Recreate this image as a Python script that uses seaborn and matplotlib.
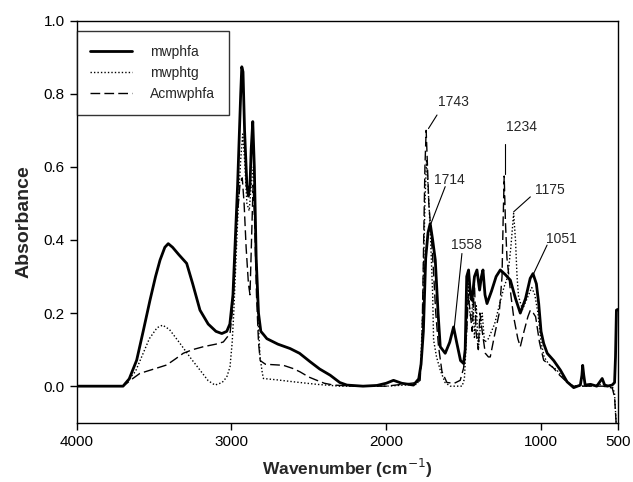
import numpy as np
import pandas as pd
import matplotlib
matplotlib.use("Agg")
import matplotlib.pyplot as plt
import seaborn as sns

# valores (número de onda em cm-1, absorbância)
wn_mwphfa = [4000, 3800, 3700, 3660, 3612, 3570, 3526, 3490, 3461, 3430, 3408, 3380, 3340, 3289,
             3250, 3203, 3150, 3100, 3062, 3030, 3010, 2990, 2975, 2960, 2948, 2940, 2933, 2925,
             2915, 2900, 2890, 2880, 2872, 2862, 2852, 2840, 2825, 2810, 2790, 2771, 2700, 2621,
             2560, 2492, 2430, 2362, 2300, 2254, 2150, 2060, 2000, 1953, 1900, 1824, 1790, 1775,
             1760, 1745, 1730, 1716, 1700, 1683, 1665, 1651, 1619, 1590, 1565, 1545, 1520, 1500,
             1490, 1480, 1468, 1456, 1446, 1430, 1414, 1397, 1385, 1375, 1362, 1349, 1320, 1290,
             1263, 1230, 1198, 1165, 1134, 1100, 1070, 1052, 1030, 1015, 1000, 983, 960, 939, 918,
             875, 832, 789, 746, 736, 731, 724, 715, 680, 640, 605, 590, 573, 541, 525, 519, 513, 505]
ab_mwphfa = [0.0, 0.0, 0.0, 0.02, 0.071, 0.15, 0.235, 0.30, 0.345, 0.38, 0.39, 0.38, 0.36, 0.336,
             0.28, 0.208, 0.17, 0.15, 0.144, 0.15, 0.17, 0.25, 0.40, 0.55, 0.70, 0.80, 0.874, 0.86,
             0.70, 0.55, 0.52, 0.55, 0.65, 0.724, 0.60, 0.35, 0.20, 0.15, 0.14, 0.13, 0.115, 0.103,
             0.09, 0.067, 0.047, 0.03, 0.01, 0.003, 0.0, 0.002, 0.008, 0.016, 0.008, 0.003, 0.02, 0.06,
             0.15, 0.35, 0.42, 0.445, 0.40, 0.345, 0.20, 0.108, 0.09, 0.12, 0.162, 0.12, 0.07, 0.062,
             0.10, 0.30, 0.318, 0.25, 0.235, 0.30, 0.318, 0.263, 0.30, 0.318, 0.25, 0.226, 0.26, 0.30,
             0.318, 0.305, 0.29, 0.24, 0.20, 0.24, 0.295, 0.308, 0.28, 0.226, 0.15, 0.117, 0.09, 0.08, 0.07,
             0.044, 0.012, -0.004, 0.003, 0.03, 0.057, 0.03, 0.003, 0.005, 0.0, 0.021, 0.004, 0.0, 0.003, 0.01, 0.08, 0.208, 0.21]

wn_mwphtg = [4000, 3700, 3677, 3620, 3580, 3530, 3480, 3444, 3400, 3332, 3260, 3203, 3150, 3106,
             3060, 3030, 3009, 2995, 2985, 2970, 2955, 2940, 2927, 2915, 2900, 2885, 2872, 2858,
             2845, 2830, 2815, 2800, 2793, 2700, 2600, 2448, 2300, 2000, 1800, 1780, 1765, 1750,
             1740, 1730, 1715, 1700, 1694, 1675, 1651, 1620, 1586, 1510, 1495, 1480, 1470, 1460,
             1450, 1440, 1430, 1418, 1405, 1395, 1380, 1365, 1340, 1300, 1270, 1240, 1215, 1195,
             1177, 1165, 1155, 1145, 1120, 1090, 1060, 1040, 1020, 1000, 980, 950, 900, 850, 800,
             750, 700, 600, 540, 525, 515]
ab_mwphtg = [0.0, 0.0, 0.012, 0.04, 0.08, 0.13, 0.16, 0.167, 0.155, 0.117, 0.075, 0.044, 0.015, 0.003,
             0.01, 0.025, 0.053, 0.12, 0.20, 0.35, 0.50, 0.62, 0.69, 0.62, 0.50, 0.48, 0.55, 0.60,
             0.45, 0.20, 0.08, 0.035, 0.021, 0.017, 0.012, 0.005, 0.0, 0.0, 0.005, 0.03, 0.20, 0.50,
             0.62, 0.55, 0.42, 0.25, 0.126, 0.08, 0.044, 0.01, 0.0, 0.0, 0.02, 0.15, 0.28, 0.20,
             0.18, 0.24, 0.13, 0.22, 0.10, 0.15, 0.20, 0.12, 0.13, 0.17, 0.22, 0.27, 0.30, 0.38,
             0.473, 0.40, 0.30, 0.245, 0.21, 0.24, 0.27, 0.25, 0.20, 0.12, 0.08, 0.06, 0.045, 0.02, 0.002,
             0.0, 0.0, 0.005, 0.0, -0.02, -0.1]

wn_acmwphfa = [4000, 3700, 3690, 3640, 3591, 3500, 3418, 3360, 3311, 3250, 3181, 3100, 3052, 3009,
               2995, 2980, 2965, 2945, 2930, 2918, 2905, 2890, 2880, 2870, 2860, 2850, 2838, 2825,
               2814, 2780, 2700, 2664, 2600, 2556, 2500, 2448, 2400, 2341, 2200, 2000, 1900, 1800,
               1781, 1770, 1760, 1750, 1742, 1735, 1725, 1710, 1694, 1680, 1662, 1640, 1608, 1560,
               1522, 1500, 1480, 1470, 1457, 1445, 1430, 1420, 1405, 1395, 1380, 1360, 1340, 1328,
               1300, 1270, 1252, 1245, 1238, 1230, 1220, 1210, 1195, 1177, 1150, 1134, 1110, 1085,
               1069, 1050, 1035, 1010, 983, 950, 920, 880, 830, 790, 700, 600, 540, 525, 515]
ab_acmwphfa = [0.0, 0.0, 0.003, 0.02, 0.035, 0.047, 0.058, 0.075, 0.09, 0.10, 0.108, 0.115, 0.121, 0.144,
               0.20, 0.30, 0.45, 0.55, 0.57, 0.50, 0.38, 0.28, 0.25, 0.40, 0.55, 0.45, 0.25, 0.12,
               0.07, 0.06, 0.058, 0.057, 0.048, 0.039, 0.025, 0.016, 0.008, 0.003, 0.0, 0.0, 0.005, 0.01,
               0.016, 0.10, 0.35, 0.60, 0.70, 0.62, 0.50, 0.42, 0.31, 0.20, 0.108, 0.04, 0.01, 0.008,
               0.016, 0.05, 0.15, 0.25, 0.20, 0.15, 0.28, 0.15, 0.10, 0.20, 0.15, 0.09, 0.08, 0.08,
               0.14, 0.20, 0.30, 0.45, 0.575, 0.45, 0.35, 0.31, 0.25, 0.19, 0.13, 0.108, 0.15, 0.19,
               0.208, 0.20, 0.19, 0.12, 0.071, 0.06, 0.05, 0.03, 0.01, 0.0, 0.0, 0.0, -0.005, -0.03, -0.1]

# rótulos dos picos: (texto, ponto do pico, posição do texto)
peak_labels = ["1743", "1714", "1558", "1234", "1175", "1051"]
peak_xy = [(1727, 0.705), (1711, 0.445), (1560, 0.162), (1232, 0.58), (1177, 0.477), (1048, 0.308)]
peak_tip = [(1672, 0.742), (1619, 0.546), (1511, 0.363), (1232, 0.664), (1069, 0.518), (961, 0.386)]
peak_text = [(1567, 0.778), (1593, 0.564), (1483, 0.386), (1123, 0.71), (946, 0.537), (871, 0.404)]

sns.set_style("ticks")
plt.rcParams["font.family"] = ["Liberation Sans", "DejaVu Sans"]
plt.rcParams["font.size"] = 10

fig = plt.figure(figsize=(6.33, 4.82), dpi=100)
ax = fig.add_axes([0.121, 0.123, 0.856, 0.834])

df1 = pd.DataFrame({"wn": wn_mwphfa, "ab": ab_mwphfa})
df2 = pd.DataFrame({"wn": wn_mwphtg, "ab": ab_mwphtg})
df3 = pd.DataFrame({"wn": wn_acmwphfa, "ab": ab_acmwphfa})

sns.lineplot(x="wn", y="ab", data=df1, ax=ax, color="black", linewidth=2.0,
             estimator=None, label="mwphfa")
sns.lineplot(x="wn", y="ab", data=df2, ax=ax, color="black", linewidth=1.0,
             linestyle=(0, (1, 1.5)), estimator=None, label="mwphtg")
sns.lineplot(x="wn", y="ab", data=df3, ax=ax, color="black", linewidth=1.0,
             linestyle=(0, (7, 3)), estimator=None, label="Acmwphfa")

for lab, tip, txt in zip(peak_labels, peak_tip, peak_text):
    ax.text(txt[0], txt[1], lab, ha="center", va="center", fontsize=10)
for xy, tip in zip(peak_xy, peak_tip):
    ax.plot([xy[0], tip[0]], [xy[1], tip[1]], color="black", linewidth=0.8)

ax.set_xlim(4000, 500)
ax.set_ylim(-0.1, 1.0)
ax.set_xticks([4000, 3000, 2000, 1000, 500])
ax.set_yticks(np.arange(0, 1.01, 0.2))
ax.yaxis.set_major_formatter(matplotlib.ticker.FormatStrFormatter("%.1f"))
ax.tick_params(direction="out", length=5, width=1, labelsize=11, colors="black")
for sp in ax.spines.values():
    sp.set_visible(True)
    sp.set_linewidth(1.0)
    sp.set_color("black")

ax.set_xlabel("Wavenumber (cm$^{-1}$)", fontsize=12.5, fontweight="bold", labelpad=6)
ax.set_ylabel("Absorbance", fontsize=14, fontweight="bold", labelpad=8)

leg = ax.legend(loc="upper left", bbox_to_anchor=(0.0, 0.974), borderaxespad=0,
                frameon=True, fancybox=False, edgecolor="black", fontsize=10,
                handlelength=3.0, borderpad=1.0, labelspacing=0.5, handletextpad=1.3)
leg.get_frame().set_linewidth(1.0)

plt.savefig("out.png", dpi=100)
plt.close()
